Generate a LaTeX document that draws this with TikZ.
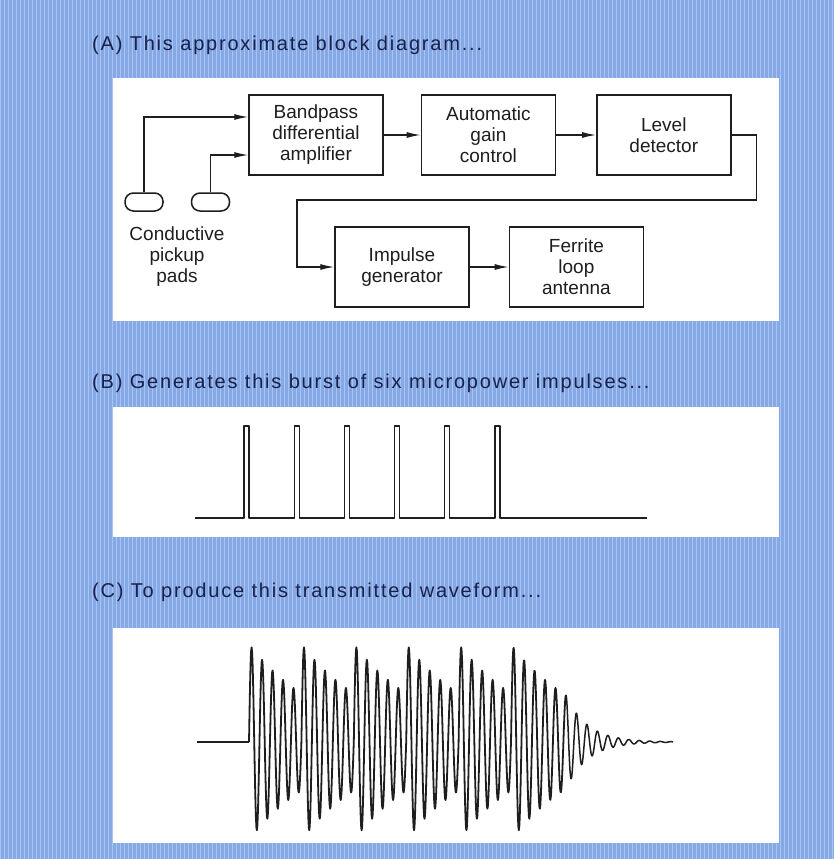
\documentclass[tikz,border=0pt]{standalone}
\usepackage{fontspec}
\setmainfont{Liberation Sans}
\newfontfamily\captionfont[LetterSpace=9]{Liberation Sans}
\usetikzlibrary{arrows.meta, positioning}
\definecolor{plateblue}{RGB}{134,168,228}
\definecolor{screenblue}{RGB}{168,196,242}
\definecolor{inkblue}{RGB}{24,34,76}
\definecolor{ink}{RGB}{30,30,30}

\begin{document}
\begin{tikzpicture}[x=1pt, y=-1pt]
\tikzset{
  block/.style={
    rectangle, draw=ink, line width=1.4pt, text=ink, align=center,
    minimum width=134pt, minimum height=80pt, inner sep=2pt,
    font=\fontsize{19}{21}\selectfont
  },
  pad/.style={rectangle, rounded corners=8.5pt, draw=ink, line width=1.5pt,
    minimum width=38pt, minimum height=18pt, inner sep=0pt},
  arrow/.style={-{Latex[length=14pt,width=6pt]}, line width=1.3pt, draw=ink},
  panel/.style={fill=white},
  caption/.style={anchor=west, inner sep=0pt, text=inkblue,
    font=\captionfont\fontsize{20}{22}\selectfont},
  trace/.style={line width=1.8pt, draw=ink, line join=round},
}

%% ---- BACKGROUND ----
\useasboundingbox (0,0) rectangle (834,859);
\fill[plateblue] (0,0) rectangle (834,859);
\draw[screenblue, line width=1pt, step=4] (0,0) grid (834,859);

\fill[panel] (113,78)  rectangle (779,321);
\fill[panel] (113,407) rectangle (779,537);
\fill[panel] (113,628) rectangle (779,843);

%% ---- CAPTIONS ----
\node[caption] (capA) at (92,45)  {(A) This approximate block diagram...};
\node[caption] (capB) at (92,383) {(B) Generates this burst of six micropower impulses...};
\node[caption] (capC) at (92,592) {(C) To produce this transmitted waveform...};

%% ---- BLOCK DIAGRAM ----
\node[block] (bandpass) at (316,135) {Bandpass\\differential\\amplifier};
\node[block, right=37pt of bandpass] (agc)   {Automatic\\gain\\control};
\node[block, right=40pt of agc]      (level) {Level\\detector};
\node[block] (impulse) at (402,267)  {Impulse\\generator};
\node[block, right=39pt of impulse]  (ferrite) {Ferrite\\loop\\antenna};

\node[pad] (padA) at (144,202) {};
\node[pad] (padB) at (210.5,202) {};
\node[align=center, text=ink, font=\fontsize{19}{21}\selectfont]
  (padlabel) at (177,257) {Conductive\\pickup\\pads};

\coordinate (ret) at (297,200);

\draw[arrow] (padA.north) |- ([yshift=18pt]bandpass.west);
\draw[arrow] (padB.north) |- ([yshift=-20pt]bandpass.west);
\draw[arrow] (bandpass) -- (agc);
\draw[arrow] (agc) -- (level);
\draw[arrow] (level.east) -- ++(25pt,0pt) |- (ret) |- (impulse.west);
\draw[arrow] (impulse) -- (ferrite);

%% ---- IMPULSES ----
\draw[trace, line width=1.3pt] (195,518)
  \foreach \k in {0,...,5} {
    -- ({244+50.2*\k},518) -- ({244+50.2*\k},426)
    -- ({249+50.2*\k},426) -- ({249+50.2*\k},518)
  } -- (647,518);

%% ---- WAVEFORM ----
\draw[trace] (197,742) -- (249,742);
\foreach \k in {0,...,4}
  \draw[trace] plot[domain=0:52.4, samples=121]
    ({249+52.4*\k+\x}, {742-98*exp(-\x/75)*sin(\x*34.351)});
% last impulse, then the ringing dies away
\draw[trace] plot[domain=0:55, samples=121]
  ({511+\x}, {742-98*exp(-\x/75)*sin(\x*34.351)});
\draw[trace, line width=1.5pt] plot[domain=55:162, samples=241]
  ({511+\x}, {742-98*exp(-\x/75)*exp(-(\x-55)/30)*sin(\x*34.351)});

\end{tikzpicture}
\end{document}
